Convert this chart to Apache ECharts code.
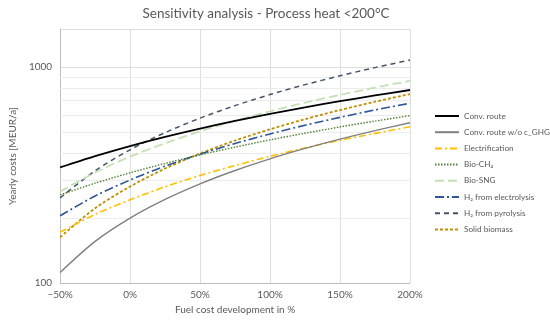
<!DOCTYPE html>
<html>
<head>
<meta charset="utf-8">
<script src="https://cdn.jsdelivr.net/npm/echarts@6/dist/echarts.min.js"></script>
<style>html,body{margin:0;padding:0;background:#fff}#c{width:550px;height:320px}</style>
</head>
<body>
<div id="c"></div>
<script>
var xs = [-50, -25, 0, 25, 50, 75, 100, 125, 150, 175, 200];
var convRoute      = [343, 387, 431, 475, 519, 563, 607, 651, 695, 739, 783];
var convNoGHG      = [112, 156, 200, 244, 288, 332, 376, 420, 464, 508, 552];
var electrification= [172, 208, 243, 279, 315, 350, 386, 422, 458, 493, 529];
var bioCH4         = [256, 290, 324, 358, 392, 426, 460, 494, 528, 562, 596];
var bioSNG         = [265, 325, 385, 444, 504, 564, 624, 684, 743, 803, 863];
var h2Electrolysis = [205, 253, 300, 348, 395, 443, 490, 538, 585, 633, 680];
var h2Pyrolysis    = [248, 331, 414, 497, 580, 663, 746, 829, 911, 994, 1077];
var solidBiomass   = [163, 222, 280, 339, 398, 457, 515, 574, 632, 691, 750];
var names = ['Conv. route', 'Conv. route w/o c_GHG', 'Electrification', 'Bio-CH\u2084', 'Bio-SNG', 'H\u2082 from electrolysis', 'H\u2082 from pyrolysis', 'Solid biomass'];
var minorGrid = [200, 300, 400, 500, 600, 700, 800, 900];
var yLabels = [100, 1000];

function pairs(v){ return xs.map(function(x,i){ return [x, v[i]]; }); }
var FONT = 'Lato';
var styles = [
  {color:'#000000', width:1.8, type:'solid'},
  {color:'#808080', width:1.4, type:'solid'},
  {color:'#FFC000', width:1.6, type:[7,3,2,3]},
  {color:'#548235', width:1.4, type:[1.5,1.5]},
  {color:'#C5E0B4', width:1.8, type:[9,4]},
  {color:'#2F5597', width:1.6, type:[9,3,2,3]},
  {color:'#44546A', width:1.5, type:[5,4]},
  {color:'#BF9000', width:1.8, type:[3,2]}
];
var datas = [convRoute, convNoGHG, electrification, bioCH4, bioSNG, h2Electrolysis, h2Pyrolysis, solidBiomass];
var series = datas.map(function(d,i){
  var s = {
    name: names[i], type:'line', data: pairs(d), smooth: 0.3, symbol:'none', showSymbol:false,
    lineStyle: styles[i], itemStyle:{color: styles[i].color}, z: 10 - i, animation:false
  };
  if (i === 0) {
    s.markLine = {
      silent:true, symbol:['none','none'], label:{show:false},
      lineStyle:{color:'#ececec', width:1, type:'solid'},
      data: minorGrid.map(function(v){ return {yAxis:v}; }),
      z: 1, animation:false
    };
  }
  return s;
});

var chart = echarts.init(document.getElementById('c'));
chart.setOption({
  animation:false,
  backgroundColor:'#ffffff',
  title:{ text:'Sensitivity analysis - Process heat <200\u00b0C', left:261, top:2, textAlign:'center',
    textStyle:{ color:'#595959', fontSize:13.5, fontWeight:'normal', fontFamily:FONT } },
  grid:{ left:42, right:140, top:29, bottom:35 },
  legend:{ orient:'vertical', left:434, top:110, padding:0, itemWidth:24, itemHeight:10, itemGap:4.2,
    itemStyle:{ opacity:0 },
    textStyle:{ color:'#595959', fontSize:8.2, lineHeight:12, fontFamily:FONT },
    data: names },
  xAxis:{ type:'value', min:-50, max:200, interval:50,
    name:'Fuel cost development in %', nameLocation:'middle', nameGap:21,
    nameTextStyle:{ color:'#595959', fontSize:10, fontFamily:FONT },
    axisLine:{ show:true, lineStyle:{ color:'#bfbfbf' } }, axisTick:{ show:false },
    axisLabel:{ color:'#595959', fontSize:10, fontFamily:FONT, margin:7,
      formatter:function(v){ return (v<0?'\u2212':'') + Math.abs(v) + '%'; } },
    splitLine:{ show:true, lineStyle:{ color:'#dedede' } } },
  yAxis:{ type:'log', logBase:10, min:100, max:1500,
    name:'Yearly costs [MEUR/a]', nameLocation:'middle', nameGap:31, nameRotate:90,
    nameTextStyle:{ color:'#595959', fontSize:10, fontFamily:FONT },
    axisLine:{ show:true, onZero:false, lineStyle:{ color:'#bfbfbf' } }, axisTick:{ show:false },
    axisLabel:{ color:'#595959', fontSize:10, fontFamily:FONT, margin:8, showMaxLabel:false,
      formatter:function(v){ var r = Math.round(v); return yLabels.indexOf(r) >= 0 ? String(r) : ''; } },
    splitLine:{ show:true, lineStyle:{ color:'#dedede' } } },
  series: series
});
</script>
</body>
</html>
